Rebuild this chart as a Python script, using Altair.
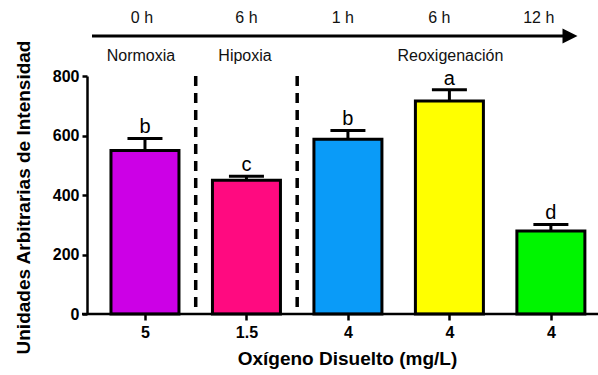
import json
import altair as alt
import pandas as pd

# ---- data ----
conditions = ["Normoxia 0 h", "Hipoxia 6 h", "Reox 1 h", "Reox 6 h", "Reox 12 h"]
oxygen_labels = ["5", "1.5", "4", "4", "4"]
values = [550, 450, 587, 716, 279]
errors = [40, 13, 30, 38, 22]
letters = ["b", "c", "b", "a", "d"]
time_labels = ["0 h", "6 h", "1 h", "6 h", "12 h"]
phase_labels = ["Normoxia", "Hipoxia", "Reoxigenación"]
y_ticks = [0, 200, 400, 600, 800]

# ---- style / layout ----
bar_colors = ["#CC00E6", "#FF0A80", "#0A9BF8", "#FFFF00", "#00F500"]
FONT = "Liberation Sans"
W, H = 511, 238

idx = list(range(len(values)))
df = pd.DataFrame({
    "idx": idx, "cond": conditions, "oxygen": oxygen_labels,
    "value": values, "err": errors, "letter": letters,
})

xscale = alt.Scale(domain=[-0.522, 4.415], nice=False, zero=False)
yscale = alt.Scale(domain=[0, 800], nice=False)

xaxis = alt.Axis(
    values=idx,
    labelExpr=json.dumps(oxygen_labels) + "[datum.value]",
    domain=False, grid=False,
    tickColor="black", tickWidth=2.5, tickSize=6,
    labelFont=FONT, labelFontSize=16, labelFontWeight="bold", labelColor="black",
    labelPadding=4,
    title="Oxígeno Disuelto (mg/L)", titleFont=FONT, titleFontSize=19,
    titleFontWeight="bold", titleColor="black",
    titleX=260, titleY=44, titleBaseline="middle", titleAlign="center",
)
yaxis = alt.Axis(
    values=y_ticks, grid=False,
    domainColor="black", domainWidth=2.5,
    tickColor="black", tickWidth=2.5, tickSize=5,
    labelFont=FONT, labelFontSize=16, labelFontWeight="bold", labelColor="black",
    labelPadding=3,
    title="Unidades Arbitrarias de Intensidad", titleFont=FONT, titleFontSize=19,
    titleFontWeight="bold", titleColor="black",
    titleX=-64, titleY=121, titleAngle=270, titleBaseline="middle", titleAlign="center",
)

X = alt.X("idx:Q", scale=xscale, axis=xaxis)
Y = alt.Y("value:Q", scale=yscale, axis=yaxis)

base = alt.Chart(df)

bars = base.mark_bar(size=68, stroke="black", strokeWidth=3).encode(
    x=X, y=Y,
    color=alt.Color("cond:N", scale=alt.Scale(domain=conditions, range=bar_colors), legend=None),
)

with_top = base.transform_calculate(top="datum.value + datum.err")

err_line = with_top.mark_rule(color="black", strokeWidth=3).encode(
    x=X, y=Y, y2="top:Q"
)
caps = with_top.mark_tick(orient="horizontal", size=35, thickness=3, color="black", opacity=1).encode(
    x=X, y=alt.Y("top:Q", scale=yscale, axis=yaxis)
)
letter_text = with_top.mark_text(font=FONT, fontSize=20, baseline="alphabetic", dy=-5, color="black").encode(
    x=X, y=alt.Y("top:Q", scale=yscale, axis=yaxis), text="letter:N"
)

# dashed separators between phases
sep_df = pd.DataFrame({"idx": [0.5, 1.5]})
separators = alt.Chart(sep_df).mark_rule(color="black", strokeWidth=3.5, strokeDash=[10, 7]).encode(
    x=X, y=alt.value(0), y2=alt.value(H)
)

dummy = alt.Chart(pd.DataFrame({"k": [0]}))
baseline = dummy.mark_rule(color="black", strokeWidth=2.5).encode(
    x=alt.value(-5), x2=alt.value(W), y=alt.value(H)
)
arrow_line = dummy.mark_rule(color="black", strokeWidth=3).encode(
    x=alt.value(5), x2=alt.value(478), y=alt.value(-40)
)
arrow_head = dummy.mark_point(
    shape="M-1,-1L1,0L-1,1Z", size=225, filled=True, color="black", opacity=1, strokeWidth=0
).encode(x=alt.value(483), y=alt.value(-40))

time_offsets = [-0.03, 0.0, -0.05, -0.1, -0.12]
time_df = pd.DataFrame({"idx": [i + o for i, o in zip(idx, time_offsets)], "t": time_labels})
times = alt.Chart(time_df).mark_text(font=FONT, fontSize=16, baseline="middle", color="#111").encode(
    x=X, y=alt.value(-58), text="t:N"
)

phase_df = pd.DataFrame({"idx": [-0.04, 0.986, 3.01], "p": phase_labels})
phases = alt.Chart(phase_df).mark_text(font=FONT, fontSize=16, baseline="middle", color="#111").encode(
    x=X, y=alt.value(-20), text="p:N"
)

chart = alt.layer(
    separators, bars, err_line, caps, letter_text, baseline,
    arrow_line, arrow_head, times, phases
).properties(
    width=W, height=H,
    autosize=alt.AutoSizeParams(type="none"),
    padding={"left": 87, "top": 76, "right": 0, "bottom": 61},
    background="white",
).configure_view(stroke=None)

chart.save("out.html", embed_options={"renderer": "svg", "actions": False})
